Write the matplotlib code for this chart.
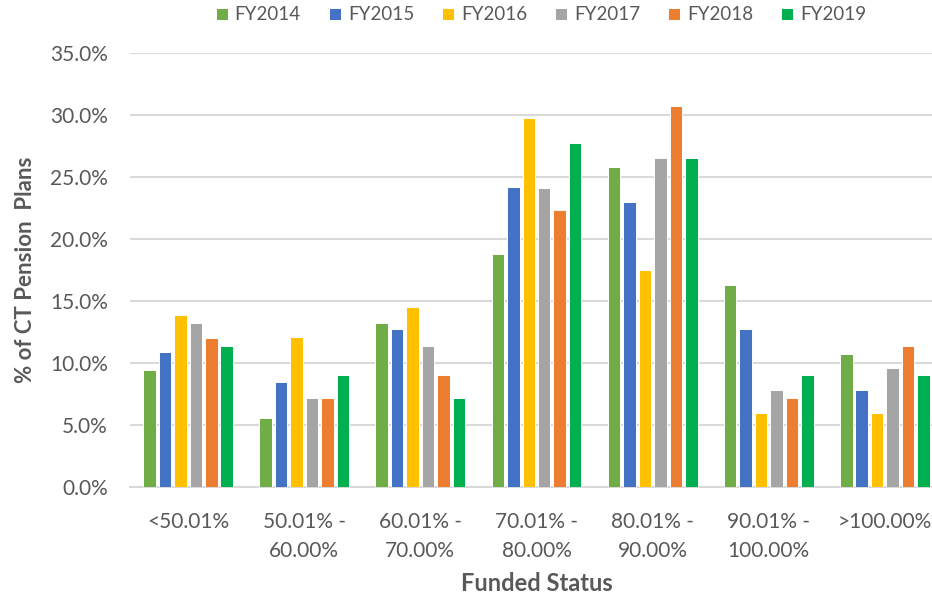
import numpy as np
import matplotlib.pyplot as plt
from matplotlib.ticker import PercentFormatter

categories = ["<50.01%", "50.01% -\n60.00%", "60.01% -\n70.00%", "70.01% -\n80.00%",
              "80.01% -\n90.00%", "90.01% -\n100.00%", ">100.00%"]
years = ["FY2014", "FY2015", "FY2016", "FY2017", "FY2018", "FY2019"]
colors = ["#70AD47", "#4472C4", "#FFC000", "#A5A5A5", "#ED7D31", "#00B050"]

fy2014 = [9.4, 5.6, 13.2, 18.8, 25.8, 16.3, 10.7]
fy2015 = [10.9, 8.5, 12.7, 24.2, 23.0, 12.7, 7.8]
fy2016 = [13.9, 12.1, 14.5, 29.7, 17.5, 6.0, 6.0]
fy2017 = [13.2, 7.2, 11.4, 24.1, 26.5, 7.8, 9.6]
fy2018 = [12.0, 7.2, 9.0, 22.3, 30.7, 7.2, 11.4]
fy2019 = [11.4, 9.0, 7.2, 27.7, 26.5, 9.0, 9.0]
series = [fy2014, fy2015, fy2016, fy2017, fy2018, fy2019]

plt.rcParams['font.family'] = ['Lato', 'DejaVu Sans']
txt = "#595959"

fig = plt.figure(figsize=(9.32, 5.98), dpi=100)
ax = fig.add_axes([130/932, 1 - 487/598, 813/932, (487 - 52.7)/598])

x = np.arange(len(categories))
pitch = 0.133
for i, (vals, name, c) in enumerate(zip(series, years, colors)):
    ax.bar(x + (i - 2.5) * pitch, vals, width=0.108, color=c, label=name,
           edgecolor="white", linewidth=0.7, zorder=3)

ax.set_xlim(-0.5, len(categories) - 0.5)
ax.set_ylim(0, 35)
ax.set_yticks(np.arange(0, 36, 5))
ax.yaxis.set_major_formatter(PercentFormatter(decimals=1))
ax.grid(axis="y", color="#D9D9D9", linewidth=1.5, zorder=0)
for s in ["top", "right", "left"]:
    ax.spines[s].set_visible(False)
ax.spines["bottom"].set_color("#D9D9D9")
ax.spines["bottom"].set_linewidth(1.5)
ax.tick_params(axis="both", length=0, colors=txt, labelsize=15)
ax.tick_params(axis="y", pad=16)
ax.tick_params(axis="x", pad=18)
ax.set_xticks(x)
ax.set_xticklabels(categories, linespacing=1.55)

ax.set_ylabel("% of CT Pension  Plans", fontsize=16, fontweight="bold", color=txt, labelpad=10)
ax.set_xlabel("Funded Status", fontsize=17, fontweight="bold", color=txt, labelpad=8)

leg = fig.legend(loc="center", bbox_to_anchor=(541/932, 1 - 15/598), ncol=6, frameon=False,
                 fontsize=13.5, handlelength=0.65, handleheight=0.65, handletextpad=0.35,
                 columnspacing=1.5)
for t in leg.get_texts():
    t.set_color(txt)

fig.savefig("out.png", dpi=100)
